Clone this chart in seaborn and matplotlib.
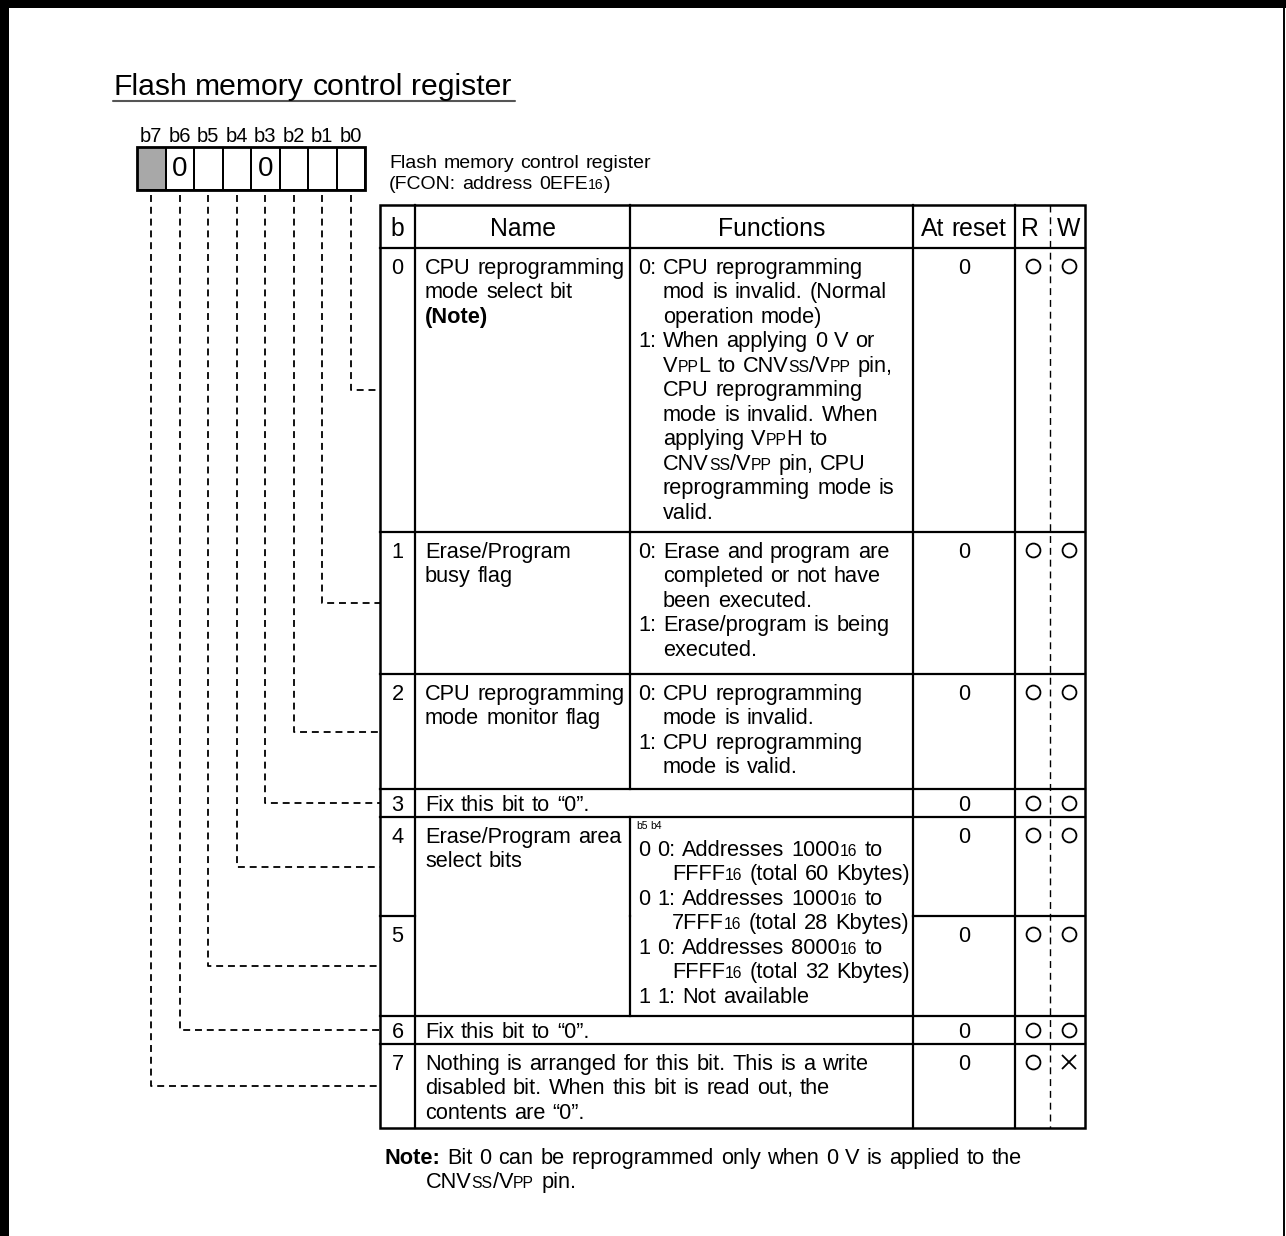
import re
import numpy as np
import seaborn as sns
import matplotlib.pyplot as plt
from matplotlib.colors import ListedColormap
from matplotlib.patches import Rectangle

# ---------------- register content ----------------
title = "Flash memory control register"
caption = ["Flash memory control register", "(FCON: address 0EFE{16})"]

bit_labels = ["b7", "b6", "b5", "b4", "b3", "b2", "b1", "b0"]
bit_values = ["", "0", "", "", "0", "", "", ""]
bit_reserved = [1, 0, 0, 0, 0, 0, 0, 0]

header = ["b", "Name", "Functions", "At reset", "R", "W"]
row_bits = ["0", "1", "2", "3", "4", "5", "6", "7"]

# {..} = small letters / subscript, *..* = bold
names = [
    ["CPU reprogramming", "mode select bit", "*(Note)*"],
    ["Erase/Program", "busy flag"],
    ["CPU reprogramming", "mode monitor flag"],
    ["Fix this bit to “0”."],
    ["Erase/Program area", "select bits"],
    [],
    ["Fix this bit to “0”."],
    ["Nothing is arranged for this bit. This is a write",
     "disabled bit. When this bit is read out, the",
     "contents are “0”."],
]

functions = [
    [["0: CPU reprogramming", "mod is invalid. (Normal", "operation mode)"],
     ["1: When applying 0 V or", "V{PP}L to CNV{SS}/V{PP} pin,", "CPU reprogramming",
      "mode is invalid. When", "applying V{PP}H to", "CNV{SS}/V{PP} pin, CPU",
      "reprogramming mode is", "valid."]],
    [["0: Erase and program are", "completed or not have", "been executed."],
     ["1: Erase/program is being", "executed."]],
    [["0: CPU reprogramming", "mode is invalid."],
     ["1: CPU reprogramming", "mode is valid."]],
    [],
    [["0 0: Addresses 1000{16} to", "FFFF{16} (total 60 Kbytes)"],
     ["0 1: Addresses 1000{16} to", "7FFF{16} (total 28 Kbytes)"],
     ["1 0: Addresses 8000{16} to", "FFFF{16} (total 32 Kbytes)"],
     ["1 1: Not available"]],
    [],
    [],
    [],
]
func_caption = ["", "", "", "", "b5 b4", "", "", ""]

reset_values = ["0", "0", "0", "0", "0", "0", "0", "0"]
read_access = ["O", "O", "O", "O", "O", "O", "O", "O"]
write_access = ["O", "O", "O", "O", "O", "O", "O", "X"]

note = ["*Note:* Bit 0 can be reprogrammed only when 0 V is applied to the",
        "CNV{SS}/V{PP} pin."]

# ---------------- layout (pixels) ----------------
W, H = 1286, 1236
FONT = "Liberation Sans"
BODY = 15.7
HEAD = 17.8
LINE = 24.5
GAP = 1.0   # extra word spacing of the original typesetting

bits_left, bits_top, bits_bottom, cell_w = 137, 147, 190, 28.5
tbl_top, head_bottom, tbl_bottom = 205, 248, 1128
row_tops = [248, 532, 674, 789, 817, 916, 1016, 1044]
col_x = [380, 415, 630, 913, 1015, 1050, 1085]
merged_rows = [3, 6, 7]
hang = {4: 34}

sns.set_theme(style="white")
plt.rcParams["font.family"] = [FONT, "DejaVu Sans"]
plt.rcParams["lines.scale_dashes"] = False

fig = plt.figure(figsize=(W / 100, H / 100), dpi=100)
ax = fig.add_axes([0, 0, 1, 1])
ax.set_xlim(0, W)
ax.set_ylim(H, 0)
ax.axis("off")
renderer = fig.canvas.get_renderer()

_space = {}


def text_width(s, size, weight):
    t = ax.text(0, 0, s, fontsize=size, fontweight=weight)
    w = t.get_window_extent(renderer).width
    t.remove()
    return w


def space_width(size, weight):
    if (size, weight) not in _space:
        _space[(size, weight)] = text_width("n n", size, weight) - text_width("nn", size, weight)
    return _space[(size, weight)]


def rich(x, y, s, size, ha="left", gap=0.0):
    segs = []
    for p in re.split(r"(\{[^}]*\}|\*[^*]*\*)", s):
        if not p:
            continue
        if p[0] == "{":
            segs.append((p[1:-1], size * 0.72, "normal"))
        elif p[0] == "*":
            segs.append((p[1:-1], size, "bold"))
        else:
            segs.append((p, size, "normal"))
    # split further on spaces so the word gap can be widened
    parts = []
    for txt, sz, wt in segs:
        sp = space_width(sz, wt) + gap
        words = txt.split(" ")
        for k, wd in enumerate(words):
            if wd:
                parts.append((wd, sz, wt, text_width(wd, sz, wt)))
            if k < len(words) - 1:
                parts.append(("", sz, wt, sp))
    total = sum(p[3] for p in parts)
    if ha == "center":
        x -= total / 2
    for wd, sz, wt, w in parts:
        if wd:
            ax.text(x, y, wd, fontsize=sz, fontweight=wt, va="baseline", ha="left",
                    color="black")
        x += w
    return total


def hline(y, x0, x1, lw=1.6, **kw):
    ax.plot([x0, x1], [y, y], color="black", lw=lw, solid_capstyle="projecting", **kw)


def vline(x, y0, y1, lw=1.6, **kw):
    ax.plot([x, x], [y0, y1], color="black", lw=lw, solid_capstyle="projecting", **kw)


# page frame
ax.add_patch(Rectangle((0, 0), W, 8, color="black", lw=0))
ax.add_patch(Rectangle((0, 0), 9, H, color="black", lw=0))
vline(1284, 0, H, lw=1.4)

# title
rich(113, 95, title, 21.7)
ax.plot([113, 515], [101, 101], color="#555555", lw=1.5)

# bit field (seaborn heatmap)
ax_bits = fig.add_axes([bits_left / W, 1 - bits_bottom / H,
                        8 * cell_w / W, (bits_bottom - bits_top) / H])
sns.heatmap(np.array([bit_reserved]), ax=ax_bits, cmap=ListedColormap(["white", "#a8a8a8"]),
            vmin=0, vmax=1, cbar=False, annot=np.array([bit_values]), fmt="",
            annot_kws=dict(fontsize=20, color="black"), linewidths=1.4, linecolor="black",
            xticklabels=bit_labels, yticklabels=False)
ax_bits.add_patch(Rectangle((0, 0), 8, 1, fill=False, lw=2, ec="black", clip_on=False))
ax_bits.xaxis.tick_top()
ax_bits.tick_params(axis="x", length=0, pad=0.5, labelsize=14.5, labelcolor="black")
for lab in ax_bits.get_xticklabels():
    lab.set_rotation(0)

# caption
rich(389, 168, caption[0], 14.0, gap=GAP)
rich(389, 189, caption[1], 14.0, gap=GAP)


def row_bottom(r):
    return row_tops[r + 1] if r + 1 < len(row_tops) else tbl_bottom


def row_center(r):
    return (row_tops[r] + row_bottom(r)) / 2


# dashed leaders from each bit to its table row
for i, lab in enumerate(bit_labels):
    bit = int(lab[1:])
    x = bits_left + (i + 0.5) * cell_w
    y = row_center(bit)
    ax.plot([x, x, col_x[0]], [bits_bottom + 5, y, y], color="black", lw=1.3,
            dashes=(5, 3.5))

# table grid
ax.add_patch(Rectangle((col_x[0], tbl_top), col_x[-1] - col_x[0], tbl_bottom - tbl_top,
                       fill=False, lw=1.8, ec="black"))
hline(head_bottom, col_x[0], col_x[-1])
vline(col_x[1], tbl_top, tbl_bottom)
vline(col_x[3], tbl_top, tbl_bottom)
vline(col_x[4], tbl_top, tbl_bottom)
vline(col_x[2], tbl_top, head_bottom)
ax.plot([col_x[5], col_x[5]], [tbl_top, tbl_bottom], color="black", lw=1.0, dashes=(5, 3.5))
for r, top in enumerate(row_tops):
    if r == 5:
        hline(top, col_x[0], col_x[1])
        hline(top, col_x[3], col_x[-1])
    elif r > 0:
        hline(top, col_x[0], col_x[-1])
    if r not in merged_rows:
        vline(col_x[2], top, row_bottom(r))

# header
head_x = [(col_x[0] + col_x[1]) / 2, (col_x[1] + col_x[2]) / 2, (col_x[2] + col_x[3]) / 2,
          (col_x[3] + col_x[4]) / 2, 1030, 1069]
for hx, txt in zip(head_x, header):
    rich(hx, 236, txt, HEAD, ha="center")

# rows
off = 7.6
for r, top in enumerate(row_tops):
    h = row_bottom(r) - top
    c = top + (18 if h > 40 else h / 2)
    rich(head_x[0], c + off, row_bits[r], BODY, ha="center")
    for i, line in enumerate(names[r]):
        rich(col_x[1] + 10, c + off + i * LINE, line, BODY, gap=GAP)
    fc = c
    if func_caption[r]:
        rich(col_x[2] + 6, top + 12, func_caption[r], 7.5)
        fc = c + 13
    k = 0
    for option in functions[r]:
        for j, line in enumerate(option):
            x = col_x[2] + 8 + (hang.get(r, 25) if j else 0)
            rich(x, fc + off + k * LINE, line, BODY, gap=GAP)
            k += 1
    rich(head_x[3], c + off, reset_values[r], BODY, ha="center")
    for mx, mark in zip([1033, 1069], [read_access[r], write_access[r]]):
        if mark == "O":
            ax.plot([mx], [c], marker="o", ms=10, mfc="none", mec="black", mew=1.3)
        else:
            ax.plot([mx], [c], marker="x", ms=10, mec="black", mew=1.3)

# note
rich(384, 1164, note[0], BODY, gap=GAP)
rich(426, 1188, note[1], BODY, gap=GAP)

fig.savefig("out.png", dpi=100)
